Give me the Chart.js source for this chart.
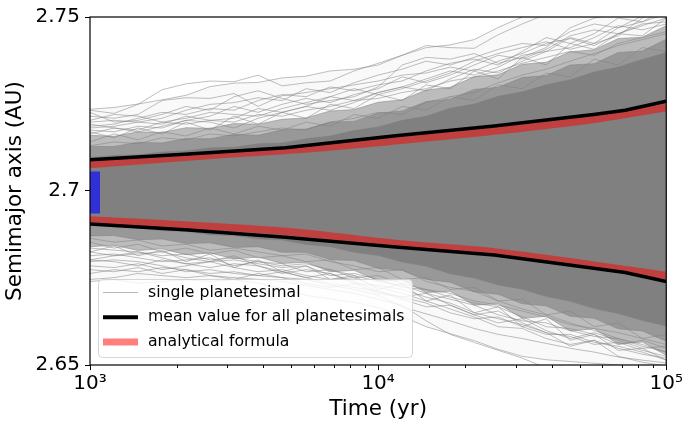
<!DOCTYPE html>
<html>
<head>
<meta charset="utf-8">
<script src="https://cdn.jsdelivr.net/npm/chart.js@4/dist/chart.umd.min.js"></script>
<style>
html,body{margin:0;padding:0;background:#fff;}
canvas{display:block;}
</style>
</head>
<body>
<canvas id="c" width="690" height="430" style="width:690px;height:430px"></canvas>
<script>
// ---------- data ----------
const times = [1000,1212,1468,1778,2154,2610,3162,3831,4642,5623,6813,8254,10000,12115,14678,17783,21544,26102,31623,38312,46416,56234,68129,82540,100000];
const xTickLabels = {1000: '10\u00b3', 10000: '10\u2074', 100000: '10\u2075'};
const yTicks = [2.65, 2.70, 2.75];

// density envelopes of the cloud of single-planetesimal tracks
const coreUpper  = [2.7096,2.7102,2.7104,2.7112,2.7115,2.7124,2.7126,2.7136,2.7138,2.7150,2.7158,2.7174,2.7184,2.7203,2.7215,2.7238,2.7250,2.7272,2.7285,2.7305,2.7320,2.7342,2.7356,2.7378,2.7398];
const coreLower  = [2.6904,2.6897,2.6894,2.6886,2.6884,2.6874,2.6872,2.6862,2.6859,2.6846,2.6840,2.6824,2.6815,2.6796,2.6784,2.6762,2.6750,2.6730,2.6718,2.6697,2.6683,2.6662,2.6648,2.6628,2.6612];
const denseUpper = [2.7128,2.7128,2.7140,2.7138,2.7151,2.7150,2.7163,2.7160,2.7176,2.7178,2.7198,2.7200,2.7224,2.7230,2.7257,2.7264,2.7292,2.7298,2.7326,2.7332,2.7362,2.7366,2.7398,2.7402,2.7436];
const denseLower = [2.6871,2.6872,2.6860,2.6862,2.6849,2.6851,2.6838,2.6840,2.6824,2.6824,2.6803,2.6800,2.6778,2.6772,2.6746,2.6738,2.6710,2.6703,2.6676,2.6670,2.6640,2.6634,2.6604,2.6598,2.6568];
const midUpper   = [2.7160,2.7157,2.7170,2.7168,2.7182,2.7180,2.7194,2.7192,2.7206,2.7210,2.7230,2.7234,2.7255,2.7262,2.7290,2.7298,2.7328,2.7334,2.7364,2.7370,2.7400,2.7406,2.7438,2.7442,2.7475];
const midLower   = [2.6840,2.6844,2.6829,2.6834,2.6817,2.6822,2.6805,2.6810,2.6792,2.6795,2.6768,2.6772,2.6742,2.6744,2.6708,2.6712,2.6672,2.6676,2.6634,2.6640,2.6598,2.6604,2.6560,2.6566,2.6528];
const sparseUpper= [2.7235,2.7240,2.7250,2.7262,2.7275,2.7300,2.7310,2.7312,2.7325,2.7330,2.7345,2.7350,2.7362,2.7390,2.7412,2.7420,2.7435,2.7470,2.7500,2.7520,2.7540,2.7555,2.7570,2.7585,2.7600];
const sparseLower= [2.6740,2.6745,2.6735,2.6740,2.6745,2.6740,2.6745,2.6735,2.6720,2.6700,2.6690,2.6680,2.6665,2.6640,2.6610,2.6590,2.6570,2.6545,2.6525,2.6515,2.6510,2.6505,2.6500,2.6498,2.6495];

// individual planetesimal tracks (upper side)
const trackT1 = [2.7232,2.7223,2.7249,2.7291,2.7308,2.7316,2.7314,2.7333,2.7302,2.7311,2.7316,2.7345,2.7367,2.7390,2.7418,2.7412,2.7410,2.7449,2.7480,2.7508,2.7525,2.7545,2.7554,2.7565,2.7573];
const trackT2 = [2.7215,2.7209,2.7220,2.7260,2.7268,2.7266,2.7280,2.7243,2.7274,2.7283,2.7294,2.7305,2.7316,2.7333,2.7339,2.7356,2.7345,2.7373,2.7395,2.7424,2.7438,2.7418,2.7452,2.7480,2.7486];
const trackT3 = [2.7198,2.7203,2.7198,2.7209,2.7232,2.7249,2.7254,2.7268,2.7260,2.7294,2.7283,2.7311,2.7333,2.7350,2.7373,2.7362,2.7384,2.7407,2.7424,2.7418,2.7458,2.7480,2.7469,2.7503,2.7523];
const trackT4 = [2.7186,2.7192,2.7209,2.7226,2.7220,2.7237,2.7232,2.7260,2.7277,2.7271,2.7299,2.7288,2.7305,2.7316,2.7345,2.7367,2.7379,2.7362,2.7401,2.7441,2.7424,2.7452,2.7497,2.7486,2.7509];
const trackT5 = [2.7175,2.7170,2.7186,2.7181,2.7203,2.7215,2.7243,2.7226,2.7249,2.7266,2.7254,2.7277,2.7294,2.7328,2.7311,2.7333,2.7362,2.7390,2.7379,2.7407,2.7446,2.7463,2.7452,2.7475,2.7497];
const trackT6 = [2.7164,2.7181,2.7175,2.7198,2.7192,2.7203,2.7209,2.7237,2.7226,2.7243,2.7271,2.7260,2.7283,2.7299,2.7322,2.7345,2.7333,2.7356,2.7390,2.7401,2.7412,2.7441,2.7475,2.7463,2.7480];
const trackT7 = [2.7203,2.7220,2.7215,2.7198,2.7209,2.7226,2.7220,2.7215,2.7237,2.7254,2.7271,2.7294,2.7277,2.7294,2.7316,2.7339,2.7373,2.7395,2.7412,2.7429,2.7407,2.7424,2.7446,2.7497,2.7525];
const trackT8 = [2.7226,2.7198,2.7203,2.7220,2.7243,2.7232,2.7271,2.7288,2.7266,2.7249,2.7260,2.7271,2.7299,2.7362,2.7384,2.7379,2.7395,2.7367,2.7384,2.7412,2.7469,2.7497,2.7509,2.7520,2.7537];
const trackT9 = [2.7181,2.7186,2.7198,2.7192,2.7215,2.7203,2.7198,2.7220,2.7215,2.7232,2.7243,2.7260,2.7266,2.7283,2.7294,2.7316,2.7328,2.7345,2.7367,2.7384,2.7401,2.7390,2.7424,2.7441,2.7458];
const trackT10= [2.7141,2.7164,2.7147,2.7170,2.7158,2.7181,2.7164,2.7186,2.7175,2.7198,2.7186,2.7220,2.7209,2.7243,2.7232,2.7271,2.7260,2.7305,2.7294,2.7339,2.7328,2.7379,2.7362,2.7412,2.7401];
const trackT11= [2.7170,2.7153,2.7181,2.7164,2.7198,2.7175,2.7215,2.7192,2.7226,2.7209,2.7249,2.7237,2.7277,2.7260,2.7305,2.7294,2.7345,2.7322,2.7384,2.7362,2.7424,2.7407,2.7452,2.7446,2.7497];
const trackT12= [2.7130,2.7141,2.7136,2.7153,2.7147,2.7164,2.7158,2.7170,2.7181,2.7175,2.7198,2.7209,2.7226,2.7220,2.7254,2.7271,2.7283,2.7311,2.7333,2.7350,2.7373,2.7395,2.7418,2.7435,2.7452];
const trackT13= [2.7192,2.7181,2.7170,2.7186,2.7203,2.7198,2.7181,2.7209,2.7226,2.7243,2.7232,2.7254,2.7283,2.7299,2.7288,2.7322,2.7350,2.7339,2.7373,2.7401,2.7441,2.7424,2.7469,2.7486,2.7525];
// individual planetesimal tracks (lower side)
const trackB1 = [2.6746,2.6751,2.6763,2.6757,2.6751,2.6757,2.6751,2.6746,2.6740,2.6729,2.6717,2.6706,2.6689,2.6672,2.6627,2.6588,2.6565,2.6542,2.6520,2.6491,2.6475,2.6463,2.6449,2.6435,2.6421];
const trackB2 = [2.6763,2.6774,2.6768,2.6780,2.6774,2.6763,2.6768,2.6757,2.6751,2.6746,2.6729,2.6717,2.6701,2.6667,2.6647,2.6627,2.6605,2.6588,2.6576,2.6562,2.6548,2.6537,2.6523,2.6514,2.6506];
const trackB3 = [2.6785,2.6780,2.6791,2.6774,2.6785,2.6797,2.6780,2.6768,2.6774,2.6757,2.6746,2.6751,2.6723,2.6706,2.6684,2.6661,2.6638,2.6610,2.6605,2.6576,2.6559,2.6571,2.6548,2.6531,2.6520];
const trackB4 = [2.6802,2.6797,2.6785,2.6802,2.6791,2.6780,2.6791,2.6785,2.6763,2.6774,2.6763,2.6734,2.6729,2.6717,2.6695,2.6678,2.6650,2.6633,2.6616,2.6593,2.6582,2.6559,2.6565,2.6542,2.6525];
const trackB5 = [2.6814,2.6819,2.6808,2.6797,2.6802,2.6808,2.6785,2.6797,2.6791,2.6768,2.6774,2.6757,2.6740,2.6729,2.6706,2.6689,2.6672,2.6644,2.6627,2.6621,2.6599,2.6582,2.6576,2.6554,2.6537];
const trackB6 = [2.6825,2.6814,2.6819,2.6825,2.6808,2.6797,2.6802,2.6791,2.6780,2.6785,2.6757,2.6763,2.6746,2.6723,2.6717,2.6695,2.6678,2.6667,2.6638,2.6610,2.6605,2.6588,2.6559,2.6571,2.6548];
const trackB7 = [2.6797,2.6802,2.6797,2.6785,2.6768,2.6774,2.6763,2.6757,2.6768,2.6751,2.6734,2.6723,2.6712,2.6689,2.6667,2.6672,2.6644,2.6621,2.6633,2.6599,2.6576,2.6593,2.6571,2.6548,2.6554];
const trackB8 = [2.6774,2.6768,2.6780,2.6763,2.6774,2.6757,2.6746,2.6763,2.6751,2.6734,2.6723,2.6734,2.6706,2.6695,2.6678,2.6650,2.6633,2.6638,2.6610,2.6588,2.6588,2.6565,2.6554,2.6537,2.6514];
const trackB9 = [2.6836,2.6830,2.6825,2.6814,2.6819,2.6802,2.6808,2.6797,2.6785,2.6791,2.6774,2.6751,2.6757,2.6734,2.6717,2.6706,2.6684,2.6672,2.6655,2.6638,2.6616,2.6605,2.6593,2.6576,2.6559];
const trackB10= [2.6853,2.6836,2.6847,2.6825,2.6836,2.6819,2.6830,2.6808,2.6814,2.6797,2.6802,2.6774,2.6780,2.6746,2.6751,2.6717,2.6723,2.6684,2.6689,2.6644,2.6655,2.6610,2.6621,2.6576,2.6588];
const trackB11= [2.6825,2.6842,2.6814,2.6830,2.6797,2.6819,2.6780,2.6802,2.6768,2.6785,2.6746,2.6757,2.6717,2.6734,2.6684,2.6701,2.6650,2.6667,2.6610,2.6633,2.6571,2.6588,2.6542,2.6548,2.6514];
const trackB12= [2.6864,2.6853,2.6859,2.6842,2.6847,2.6830,2.6836,2.6825,2.6814,2.6819,2.6797,2.6785,2.6768,2.6774,2.6740,2.6723,2.6712,2.6684,2.6661,2.6644,2.6621,2.6599,2.6576,2.6559,2.6537];
const trackB13= [2.6802,2.6814,2.6825,2.6808,2.6791,2.6797,2.6814,2.6785,2.6768,2.6751,2.6763,2.6740,2.6712,2.6695,2.6706,2.6672,2.6644,2.6655,2.6621,2.6593,2.6554,2.6571,2.6525,2.6508,2.6497];

// mean value for all planetesimals (upper / lower)
const meanTimes = [1000,2200,4770,11500,25300,56000,72000,100000];
const meanUpper = [2.7090,2.7106,2.7124,2.7159,2.7187,2.7220,2.7232,2.7258];
const meanLower = [2.6905,2.6888,2.6867,2.6839,2.6816,2.6778,2.6766,2.6740];

// analytical formula (upper / lower)
const anaTimes = [1000,3010,5250,11500,25300,56000,100000];
const anaUpper = [2.7076,2.7106,2.7119,2.7144,2.7172,2.7206,2.7240];
const anaLower = [2.6917,2.6895,2.6881,2.6849,2.6825,2.6787,2.6757];

// initial spread (blue bar at t = 10^3)
const initTime = 1000;
const initRange = [2.6935, 2.7056];

const legendLabels = ['single planetesimal', 'mean value for all planetesimals', 'analytical formula'];

// ---------- build datasets ----------
const pts = (xs, ys) => xs.map((x, i) => ({x, y: ys[i]}));
const GRAY = 'rgb(128,128,128)';
const TRACK = 'rgba(128,128,128,0.5)';
const datasets = [];
function add(ds) { datasets.push(Object.assign({pointRadius: 0, pointHoverRadius: 0, clip: 0, tension: 0}, ds)); return datasets.length - 1; }

add({data: [{x: initTime, y: initRange[0]}, {x: initTime, y: initRange[1]}], borderColor: 'rgb(48,48,214)', borderWidth: 20, borderCapStyle: 'butt', order: 0});
add({data: pts(meanTimes, meanUpper), borderColor: '#000', borderWidth: 3.5, order: 1});
add({data: pts(meanTimes, meanLower), borderColor: '#000', borderWidth: 3.5, order: 1});
add({data: pts(anaTimes, anaUpper), borderColor: 'rgba(255,0,0,0.5)', borderWidth: 7.5, cubicInterpolationMode: 'monotone', order: 2});
add({data: pts(anaTimes, anaLower), borderColor: 'rgba(255,0,0,0.5)', borderWidth: 7.5, cubicInterpolationMode: 'monotone', order: 2});

function band(upper, lower, color, order) {
  const i = add({data: pts(times, upper), borderWidth: 1, borderColor: TRACK, backgroundColor: color, order});
  datasets[i].fill = add({data: pts(times, lower), borderWidth: 1, borderColor: TRACK, order});
}
band(coreUpper, coreLower, GRAY, 3);
band(denseUpper, denseLower, 'rgba(128,128,128,0.6)', 4);
band(midUpper, midLower, 'rgba(128,128,128,0.5)', 5);

[trackT1,trackT2,trackT3,trackT4,trackT5,trackT6,trackT7,trackT8,trackT9,trackT10,trackT11,trackT12,trackT13,
 trackB1,trackB2,trackB3,trackB4,trackB5,trackB6,trackB7,trackB8,trackB9,trackB10,trackB11,trackB12,trackB13].forEach(tr => {
  add({data: pts(times, tr), borderColor: TRACK, borderWidth: 1, order: 6});
});

band(sparseUpper, sparseLower, 'rgba(128,128,128,0.05)', 7);

// ---------- decorations: spines, x ticks, legend ----------
const decor = {
  id: 'decor',
  afterDraw(chart) {
    const {ctx, chartArea: a, scales: {x}} = chart;
    ctx.save();
    ctx.strokeStyle = '#000';
    ctx.lineWidth = 1;
    x.ticks.forEach(t => {
      const px = Math.round(x.getPixelForValue(t.value)) + 0.5;
      const len = xTickLabels[t.value] ? 5 : 3;
      ctx.beginPath(); ctx.moveTo(px, a.bottom); ctx.lineTo(px, a.bottom + len); ctx.stroke();
    });
    ctx.lineWidth = 1.2;
    ctx.strokeRect(a.left, a.top, a.right - a.left, a.bottom - a.top);
    // legend
    const lx = a.left + 8, ly = a.bottom - 86, lw = 314, lh = 78;
    ctx.beginPath();
    ctx.roundRect(lx + 0.5, ly + 0.5, lw, lh, 4);
    ctx.fillStyle = 'rgba(255,255,255,0.8)';
    ctx.fill();
    ctx.strokeStyle = 'rgba(204,204,204,0.8)';
    ctx.lineWidth = 1;
    ctx.stroke();
    const styles = [
      {c: 'rgba(128,128,128,0.55)', w: 1},
      {c: '#000', w: 4},
      {c: 'rgba(255,0,0,0.5)', w: 7}
    ];
    ctx.font = '15.7px "DejaVu Sans"';
    ctx.textBaseline = 'middle';
    ctx.textAlign = 'left';
    legendLabels.forEach((lab, k) => {
      const yy = ly + 13.5 + k * 24.8;
      ctx.beginPath();
      ctx.strokeStyle = styles[k].c;
      ctx.lineWidth = styles[k].w;
      ctx.lineCap = 'butt';
      ctx.moveTo(lx + 5, yy); ctx.lineTo(lx + 40, yy);
      ctx.stroke();
      ctx.fillStyle = '#000';
      ctx.fillText(lab, lx + 50, yy);
    });
    ctx.restore();
  }
};

Chart.defaults.font.family = '"DejaVu Sans", sans-serif';
Chart.defaults.color = '#000';

new Chart(document.getElementById('c'), {
  type: 'line',
  data: {datasets},
  options: {
    responsive: false,
    animation: false,
    devicePixelRatio: 1,
    events: [],
    layout: {padding: {top: 11, right: 16, left: 0, bottom: 0}},
    plugins: {legend: {display: false}, tooltip: {enabled: false}},
    scales: {
      x: {
        type: 'logarithmic',
        min: 1000, max: 100000,
        grid: {display: false, drawTicks: false},
        border: {display: false},
        ticks: {
          autoSkip: false, maxRotation: 0, padding: 7,
          font: {size: 20},
          callback: v => xTickLabels[v] || ''
        },
        title: {display: true, text: 'Time (yr)', font: {size: 21.5}, padding: {top: 0, bottom: 8}},
        afterFit: s => { s.height = 65; }
      },
      y: {
        type: 'linear',
        min: 2.65, max: 2.75,
        afterBuildTicks: s => { s.ticks = yTicks.map(v => ({value: v})); },
        grid: {display: true, drawOnChartArea: false, drawTicks: true, tickLength: 5, color: '#000', tickWidth: 1},
        border: {display: false},
        ticks: {padding: 5, font: {size: 20}, callback: v => String(+v.toFixed(2))},
        title: {display: true, text: 'Semimajor axis (AU)', font: {size: 21.5}, padding: {top: 3, bottom: 0}},
        afterFit: s => { s.width = 90; }
      }
    }
  },
  plugins: [decor]
});
</script>
</body>
</html>
